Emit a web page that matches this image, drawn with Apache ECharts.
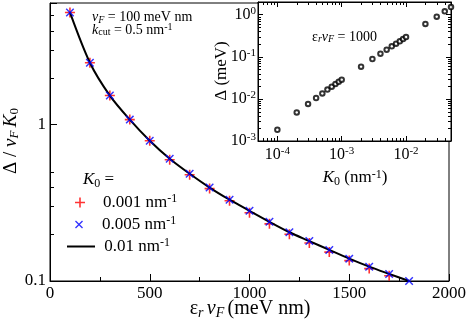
<!DOCTYPE html>
<html><head><meta charset="utf-8">
<script src="https://cdn.jsdelivr.net/npm/echarts@6/dist/echarts.min.js"></script>
<style>html,body{margin:0;padding:0;background:#fff}#c{width:469px;height:324px}</style>
</head><body><div id="c"></div>
<script>
// ---- data ----
const epsVF = [100,200,300,400,500,600,700,800,900,1000,1100,1200,1300,1400,1500,1600,1700,1800];
const ratioK0_001 = [5.22,2.49,1.535,1.077,0.789,0.596,0.478,0.390,0.326,0.273,0.232,0.199,0.175,0.153,0.135,0.120,0.108];
const ratioK0_005 = [5.22,2.49,1.535,1.077,0.789,0.605,0.485,0.396,0.331,0.281,0.239,0.205,0.180,0.158,0.139,0.1235,0.111,0.100];
const ratioK0_01  = [5.22,2.49,1.535,1.077,0.789,0.605,0.485,0.396,0.331,0.281,0.239,0.205,0.180,0.158,0.139,0.1235,0.111,0.100];
const insetK0 = [1e-4,2e-4,3e-4,4e-4,5e-4,6e-4,7e-4,8e-4,9e-4,1e-3,2e-3,3e-3,4e-3,5e-3,6e-3,7e-3,8e-3,9e-3,1e-2,2e-2,3e-2,4e-2,5e-2];
const insetDelta = [0.00185,0.00478,0.00757,0.0105,0.0135,0.0166,0.0195,0.0226,0.0256,0.0286,0.0582,0.0886,0.1185,0.1475,0.177,0.205,0.233,0.264,0.295,0.601,0.896,1.20,1.52];
const mainYMinorTicks = [0.2,0.3,0.4,0.5,2,3,4,5];
const insetXMinorTicks = [6e-5,7e-5,8e-5,9e-5,2e-4,3e-4,4e-4,5e-4,6e-4,7e-4,8e-4,9e-4,2e-3,3e-3,4e-3,5e-3,6e-3,7e-3,8e-3,9e-3,2e-2,3e-2,4e-2];
const insetYMinorTicks = [2e-3,3e-3,4e-3,5e-3,6e-3,7e-3,8e-3,9e-3,2e-2,3e-2,4e-2,5e-2,6e-2,7e-2,8e-2,9e-2,0.2,0.3,0.4,0.5,0.6,0.7,0.8,0.9];

const FF = "Liberation Serif";
function R(fs){
  const L = Math.round(fs*1.1), sL = Math.round(fs*0.45), sf = Math.round(fs*0.7);
  return {
    n:{fontSize:fs,fontFamily:FF,color:'#000',lineHeight:L},
    i:{fontSize:fs,fontFamily:FF,fontStyle:'italic',color:'#000',lineHeight:L},
    sub:{fontSize:sf,fontFamily:FF,color:'#000',lineHeight:sL,verticalAlign:'bottom'},
    isub:{fontSize:sf,fontFamily:FF,fontStyle:'italic',color:'#000',lineHeight:sL,verticalAlign:'bottom'},
    sup:{fontSize:sf,fontFamily:FF,color:'#000',lineHeight:sL,verticalAlign:'top'}
  };
}
const PLUS = 'path://M4.2,0h1.6v4.2h4.2v1.6h-4.2v4.2h-1.6v-4.2h-4.2v-1.6h4.2z';
const CROSS = 'path://M0,1.2L1.2,0L5,3.8L8.8,0L10,1.2L6.2,5L10,8.8L8.8,10L5,6.2L1.2,10L0,8.8L3.8,5z';

function isPow10(v){ const e=Math.log10(v); return Math.abs(e-Math.round(e))<1e-6; }
function tickSeries(xi, yi, data, dx, dy, len){
  return {type:'custom', xAxisIndex:xi, yAxisIndex:yi, silent:true, z:5, clip:false,
    data:data,
    renderItem:function(params, api){
      const p = api.coord([api.value(0), api.value(1)]);
      const x = dx===0 ? Math.round(p[0])+0.5 : Math.round(p[0]);
      const y = dy===0 ? Math.round(p[1])+0.5 : Math.round(p[1]);
      return {type:'line', shape:{x1:x,y1:y,x2:x+dx*len,y2:y+dy*len}, style:{stroke:'#000',lineWidth:1}};
    }};
}

const chart = echarts.init(document.getElementById('c'), null, {renderer:'canvas'});
const inLbl = (e)=> '{n|10}{sup|'+e+'}';
const opt = {
  animation:false,
  backgroundColor:'#fff',
  textStyle:{fontFamily:FF},
  grid:[
    {left:50, top:3, width:401, height:278, show:true, borderColor:'#000', borderWidth:1, backgroundColor:'transparent'},
    {left:258, top:2, width:193, height:139, show:true, borderColor:'#000', borderWidth:1, backgroundColor:'#fff'}
  ],
  xAxis:[
    {gridIndex:0, type:'value', min:0, max:2000, interval:500,
     axisLine:{lineStyle:{color:'#000',width:1}}, axisTick:{inside:true,length:7,lineStyle:{color:'#000'}},
     minorTick:{show:true,splitNumber:2,length:4,lineStyle:{color:'#000'}},
     splitLine:{show:false},
     axisLabel:{margin:3, formatter:v=>'{n|'+String(v)+'}', rich:R(17)}},
    {gridIndex:1, type:'log', min:5e-5, max:0.05, position:'bottom',
     axisLine:{lineStyle:{color:'#000'}}, axisTick:{inside:true,length:5,lineStyle:{color:'#000'}},
     splitLine:{show:false},
     axisLabel:{margin:5, formatter:function(v){ return isPow10(v)? inLbl(Math.round(Math.log10(v))) : ''; }, rich:R(16)}},
    {gridIndex:1, type:'log', min:5e-5, max:0.05, position:'top',
     axisLine:{lineStyle:{color:'#000'}}, axisTick:{inside:true,length:5,lineStyle:{color:'#000'}},
     splitLine:{show:false}, axisLabel:{show:false}}
  ],
  yAxis:[
    {gridIndex:0, type:'log', min:0.1, max:6,
     axisLine:{lineStyle:{color:'#000'}}, axisTick:{inside:true,length:7,lineStyle:{color:'#000'}},
     splitLine:{show:false},
     axisLabel:{margin:4, rich:R(17), formatter:function(v){ if(!isPow10(v)) return ''; return Math.abs(v-1)<1e-9?'{n|1}':'{n|0.1}'; }}},
    {gridIndex:1, type:'log', min:1e-3, max:2, position:'left',
     axisLine:{lineStyle:{color:'#000'}}, axisTick:{inside:true,length:5,lineStyle:{color:'#000'}},
     splitLine:{show:false},
     axisLabel:{margin:2, formatter:function(v){ return isPow10(v)? inLbl(Math.round(Math.log10(v))) : ''; }, rich:R(16)}},
    {gridIndex:1, type:'log', min:1e-3, max:2, position:'right',
     axisLine:{lineStyle:{color:'#000'}}, axisTick:{inside:true,length:5,lineStyle:{color:'#000'}},
     splitLine:{show:false}, axisLabel:{show:false}}
  ],
  legend:[
    {left:75, top:193, padding:0, itemWidth:36, itemHeight:10, data:['0.001'], selectedMode:false,
     formatter:()=>'{n|0.001 nm}{sup|-1}', textStyle:{rich:R(17)}},
    {left:75, top:215, padding:0, itemWidth:36, itemHeight:8, data:['0.005'], selectedMode:false,
     formatter:()=>'{n|0.005 nm}{sup|-1}', textStyle:{rich:R(17)}},
    {left:67, top:237, padding:0, itemWidth:28, itemHeight:2, icon:'rect', data:['0.01'], selectedMode:false,
     formatter:()=>'{n| 0.01 nm}{sup|-1}', textStyle:{rich:R(17)}}
  ],
  series:[
    {name:'0.001', type:'scatter', xAxisIndex:0, yAxisIndex:0, symbol:PLUS, symbolSize:10, z:2,
     itemStyle:{color:'#ff0000'}, data:ratioK0_001.map((v,i)=>[epsVF[i],v])},
    {name:'0.01', type:'line', xAxisIndex:0, yAxisIndex:0, symbol:'none', smooth:0.3, z:3,
     lineStyle:{color:'#000',width:2}, itemStyle:{color:'#000'}, data:ratioK0_01.map((v,i)=>[epsVF[i],v])},
    {name:'0.005', type:'scatter', xAxisIndex:0, yAxisIndex:0, symbol:CROSS, symbolSize:8.5, z:4,
     itemStyle:{color:'#0000ff'}, data:ratioK0_005.map((v,i)=>[epsVF[i],v])},
    {name:'inset', type:'scatter', xAxisIndex:1, yAxisIndex:1, symbol:'emptyCircle', symbolSize:4.5, z:6,
     itemStyle:{color:'#000', borderColor:'#000', borderWidth:1.5}, data:insetDelta.map((v,i)=>[insetK0[i],v])},
    tickSeries(0,0, mainYMinorTicks.map(v=>[0,v]), 1,0,4),
    tickSeries(1,1, insetXMinorTicks.map(v=>[v,1e-3]), 0,-1,3),
    tickSeries(2,2, insetXMinorTicks.map(v=>[v,2]), 0,1,3),
    tickSeries(1,1, insetYMinorTicks.map(v=>[5e-5,v]), 1,0,3),
    tickSeries(1,2, insetYMinorTicks.map(v=>[0.05,v]), -1,0,3)
  ],
  graphic:[
    {type:'text', x:250, y:309, style:{text:'{n|ε}{isub|r} {i|v}{isub|F} {n|(meV nm)}', rich:R(20), align:'center', verticalAlign:'middle'}},
    {type:'text', x:11, y:141, rotation:Math.PI/2, style:{text:'{n|Δ / }{i|v}{isub|F} {i|K}{sub|0}', rich:R(19), align:'center', verticalAlign:'middle'}},
    {type:'text', x:222, y:71, rotation:Math.PI/2, style:{text:'{n|Δ (meV)}', rich:R(17), align:'center', verticalAlign:'middle'}},
    {type:'text', x:355, y:178, style:{text:'{i|K}{sub|0}{n| (nm}{sup|-1}{n|)}', rich:R(17), align:'center', verticalAlign:'middle'}},
    {type:'text', x:92, y:17.5, style:{text:'{i|v}{isub|F}{n| = 100 meV nm}', rich:R(14), align:'left', verticalAlign:'middle'}},
    {type:'text', x:92, y:30, style:{text:'{i|k}{sub|cut}{n| = 0.5 nm}{sup|-1}', rich:R(14), align:'left', verticalAlign:'middle'}},
    {type:'text', x:312, y:37, style:{text:'{n|ε}{isub|r}{i|v}{isub|F}{n| = 1000}', rich:R(14), align:'left', verticalAlign:'middle'}},
    {type:'text', x:83, y:180, style:{text:'{i|K}{sub|0}{n| =}', rich:R(17), align:'left', verticalAlign:'middle'}}
  ]
};
chart.setOption(opt);
</script>
</body></html>
